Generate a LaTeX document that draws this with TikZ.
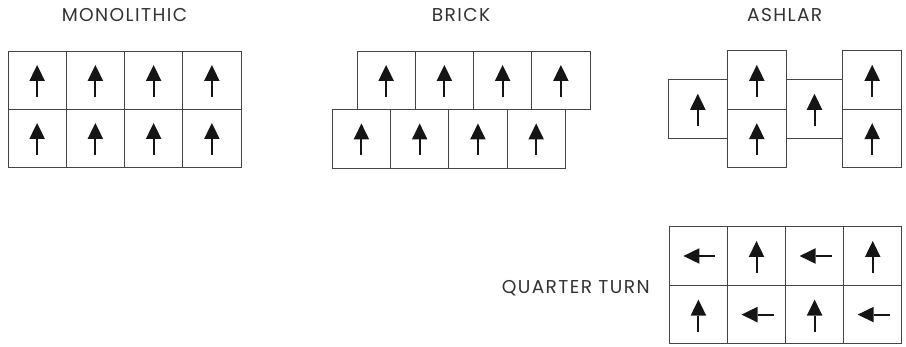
\documentclass[tikz,border=0pt]{standalone}
\usepackage{fontspec}
\setmainfont{Poppins}
\newfontfamily\titlefont[LetterSpace=7.5]{Poppins}
\definecolor{txt}{HTML}{333333}
\definecolor{edge}{HTML}{444444}
\definecolor{ink}{HTML}{151515}
\begin{document}
\begin{tikzpicture}[x=1pt,y=1pt,
  cell/.style={draw=edge,line width=0.9pt,minimum width=58.25pt,minimum height=58pt,inner sep=0pt,anchor=north west,outer sep=0pt},
  title/.style={text=txt,font=\titlefont\fontsize{18.6}{21}\selectfont,anchor=base,inner sep=0pt},
  uparrow/.pic={\fill[ink] (-7.8,-1) -- (7.8,-1) -- (0,15) -- cycle; \draw[ink,line width=2pt] (0,-1) -- (0,-17);}
]
\useasboundingbox (0,0) rectangle (906,347);
% titles
\node[title] (tm) at (124.5,325.3) {MONOLITHIC};
\node[title] (tb) at (461,325.3) {BRICK};
\node[title] (ta) at (784.7,325.3) {ASHLAR};
\node[title] (tq) at (575.7,53.7) {QUARTER TURN};
% monolithic
\foreach \i in {0,...,3}{
  \node[cell] (m1\i) at (8+58.25*\i,296) {};
  \node[cell] (m2\i) at (8+58.25*\i,238) {};
  \pic at (m1\i.center) {uparrow};
  \pic at (m2\i.center) {uparrow};
}
% brick
\foreach \i in {0,...,3}{
  \node[cell] (b1\i) at (357+58.25*\i,296) {};
  \node[cell,minimum height=59pt] (b2\i) at (332.3+58.25*\i,238) {};
  \pic at (b1\i.center) {uparrow};
  \pic at (b2\i.center) {uparrow};
}
% ashlar
\node[cell,minimum width=59pt,minimum height=59pt] (a1) at (668.3,267.7) {};
\node[cell,minimum width=59pt,minimum height=58.3pt] (a2t) at (727.3,296.3) {};
\node[cell,minimum width=59pt,minimum height=58.3pt] (a2b) at (727.3,238) {};
\node[cell,minimum width=56.4pt,minimum height=59pt] (a3) at (786.3,267.7) {};
\node[cell,minimum width=59pt,minimum height=58.3pt] (a4t) at (842.7,296.3) {};
\node[cell,minimum width=59pt,minimum height=58.3pt] (a4b) at (842.7,238) {};
\foreach \n in {a1,a2t,a2b,a3,a4t,a4b}{\pic at (\n.center) {uparrow};}
% quarter turn
\foreach \i in {0,...,3}{
  \node[cell,minimum height=58.6pt] (q1\i) at (669.3+58.1*\i,120.3) {};
  \node[cell,minimum height=58.6pt] (q2\i) at (669.3+58.1*\i,61.7) {};
}
\pic[rotate=90] at (q10.center) {uparrow};
\pic at (q11.center) {uparrow};
\pic[rotate=90] at (q12.center) {uparrow};
\pic at (q13.center) {uparrow};
\pic at (q20.center) {uparrow};
\pic[rotate=90] at (q21.center) {uparrow};
\pic at (q22.center) {uparrow};
\pic[rotate=90] at (q23.center) {uparrow};
\end{tikzpicture}
\end{document}
